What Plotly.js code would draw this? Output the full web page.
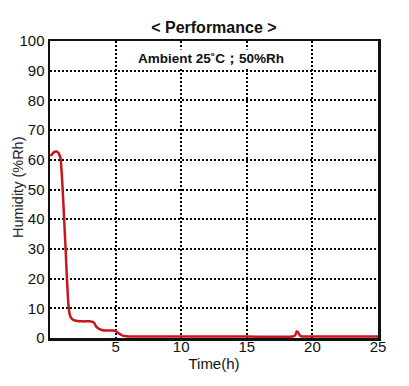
<!DOCTYPE html>
<html><head><meta charset="utf-8">
<script src="https://cdn.plot.ly/plotly-3.0.1.min.js"></script>
<style>html,body{margin:0;padding:0;background:#fff}#chart{width:409px;height:386px}</style>
</head><body><div id="chart"></div>
<script>
const timeH = [0, 0.15, 0.3, 0.5, 0.65, 0.8, 0.9, 1.0, 1.1, 1.2, 1.28, 1.35, 1.42, 1.5, 1.6, 1.8, 2.1, 2.5, 3.0, 3.2, 3.35, 3.5, 3.7, 3.95, 4.3, 4.8, 5.0, 5.1, 5.3, 5.5, 5.8, 6.5, 10, 15, 18.5, 18.7, 18.8, 18.9, 19.05, 19.2, 20, 25];
const humidity = [61.5, 61.8, 62.6, 62.8, 62.3, 60.5, 55, 47, 38, 29, 21, 15, 10.5, 8, 6.8, 6, 5.7, 5.6, 5.6, 5.5, 5.2, 4.0, 3.2, 2.7, 2.5, 2.5, 2.4, 2.0, 1.4, 0.9, 0.6, 0.5, 0.5, 0.5, 0.5, 1.0, 2.2, 2.0, 0.8, 0.5, 0.5, 0.5];
const xTicks = [5, 10, 15, 20, 25];
const yTicks = [0, 10, 20, 30, 40, 50, 60, 70, 80, 90, 100];

const font = 'Liberation Sans, Arial, sans-serif';
Plotly.newPlot('chart', [{
  x: timeH, y: humidity, type: 'scatter', mode: 'lines',
  line: {color: '#c8161d', width: 2.5, shape: 'spline', smoothing: 0.5},
  hoverinfo: 'skip', showlegend: false
}], {
  width: 409, height: 386,
  margin: {l: 50, r: 31, t: 41, b: 48},
  paper_bgcolor: '#fff', plot_bgcolor: '#fff',
  font: {family: font, color: '#111', size: 15},
  title: {text: '< Performance >', font: {family: font, size: 16, color: '#111', weight: 'bold'}, x: 0.523, xanchor: 'center', y: 0.93, yanchor: 'middle'},
  xaxis: {
    range: [0, 25], tickvals: xTicks, ticktext: xTicks.map(String),
    showgrid: true, gridcolor: '#000', griddash: '2px,2px', gridwidth: 2,
    showline: true, linecolor: '#111', linewidth: 2.5, mirror: true,
    ticks: '', ticklabelstandoff: -7, zeroline: false, tickfont: {size: 15, family: font},
    title: {text: 'Time(h)', font: {size: 15, family: font}, standoff: 1}
  },
  yaxis: {
    range: [0, 100], tickvals: yTicks, ticktext: yTicks.map(String),
    showgrid: true, gridcolor: '#000', griddash: '2px,2px', gridwidth: 2,
    showline: true, linecolor: '#111', linewidth: 2.5, mirror: true,
    ticks: '', zeroline: false, tickfont: {size: 15, family: font}
  },
  annotations: [{
    text: 'Ambient 25˚C；50%Rh', x: 0.49, y: 0.94, xref: 'paper', yref: 'paper',
    xanchor: 'center', yanchor: 'middle', showarrow: false,
    font: {family: font, size: 13.5, color: '#111', weight: 'bold'}, bgcolor: '#fff'
  }, {
    text: 'Humidity (%Rh)', x: 0, y: 0.5, xref: 'paper', yref: 'paper',
    showarrow: false, textangle: -90, xanchor: 'center', yanchor: 'middle',
    font: {family: font, size: 14.5, color: '#222'}
  }]
}, {displayModeBar: false, staticPlot: true}).then(function(gd){
  const s = gd._fullLayout._size;
  const px = 18, py = 187;
  Plotly.relayout(gd, {
    'annotations[1].x': (px - s.l) / s.w,
    'annotations[1].y': 1 - (py - s.t) / s.h
  });
});
</script></body></html>
